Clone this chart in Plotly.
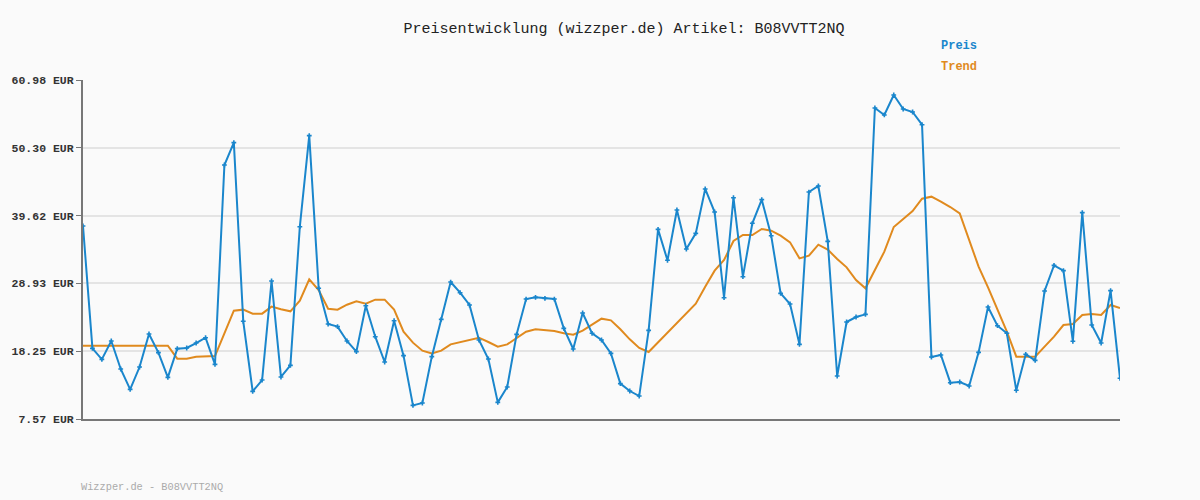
import plotly.graph_objects as go

# Preisverlauf
preis = [37.98, 18.70, 16.97, 19.86, 15.45, 12.24, 15.76, 20.96, 18.02, 14.13,
         18.65, 18.76, 19.54, 20.38, 16.18, 47.59, 51.11, 22.96, 11.93, 13.71,
         29.31, 14.19, 16.02, 37.87, 52.21, 28.16, 22.54, 22.12, 19.86, 18.18,
         25.42, 20.54, 16.55, 23.06, 17.55, 9.72, 10.09, 17.39,
         23.27, 29.15, 27.47, 25.53, 20.02, 17.02, 10.19, 12.61, 20.91, 26.47,
         26.74, 26.58, 26.47, 21.85, 18.60, 24.27, 21.07, 20.02, 17.91, 13.14,
         11.98, 11.19, 21.54, 37.45, 32.57, 40.50, 34.35, 36.82, 43.81, 40.18,
         26.68, 42.44, 29.99, 38.40, 42.13, 36.45, 27.37,
         25.69, 19.33, 43.33, 44.28, 35.56, 14.34, 22.85, 23.64, 24.06, 56.57,
         55.47, 58.62, 56.41, 55.94, 53.94, 17.34, 17.65, 13.29, 13.40, 12.77,
         18.07, 25.21, 22.27, 21.07, 12.09, 17.76, 16.81, 27.74, 31.78, 30.94,
         19.81, 40.08, 22.38, 19.54, 27.79, 13.98]

trend = [19.12] * 10 + [
    17.07, 17.07, 17.39, 17.39, 17.49, 21.07, 24.64, 24.80, 24.17, 24.17,
    25.27, 24.85, 24.53, 26.21, 29.57, 27.89, 24.95, 24.80, 25.58, 26.11,
    25.74, 26.37, 26.37, 24.80, 21.33, 19.60, 18.34, 17.91,
    18.34, 19.33, 19.70, 20.12, 20.38, 19.70, 18.97, 19.33, 20.33, 21.33,
    21.70, 21.59, 21.43, 21.07, 20.86, 21.49, 22.48, 23.38, 23.11, 21.70,
    20.12, 18.76, 18.12, 19.65, 21.17, 22.69, 24.22, 25.74, 28.42, 30.94,
    32.62, 35.61, 36.56, 36.56, 37.50, 37.24, 36.45,
    35.40, 32.88, 33.30, 35.04, 34.25, 32.78, 31.46, 29.47, 28.16, 31.05,
    33.93, 37.82, 39.13, 40.34, 42.28, 42.60, 41.81, 40.97, 39.97, 35.77,
    31.57, 28.31, 24.74, 21.33, 17.39, 17.39, 17.39, 18.97, 20.54, 22.38,
    22.54, 23.96, 24.11, 23.96, 25.53, 25.06]

ticks = [7.57, 18.25, 28.93, 39.62, 50.30, 60.98]
tick_text = ["<b>%.2f EUR</b>" % t for t in ticks]

blau = "#1a86cc"
orange = "#e08a1e"
mono = "Liberation Mono"

x = list(range(len(preis)))

fig = go.Figure()
fig.add_trace(go.Scatter(x=x, y=trend, mode="lines",
                         line=dict(color=orange, width=2), name="Trend"))
fig.add_trace(go.Scatter(x=x, y=preis, mode="lines+markers",
                         line=dict(color=blau, width=2),
                         marker=dict(color=blau, size=4, symbol="cross"),
                         name="Preis"))

fig.update_layout(
    width=1200, height=500,
    margin=dict(l=80, r=80, t=80, b=81),
    paper_bgcolor="#fafafa", plot_bgcolor="#fafafa",
    showlegend=False,
    font=dict(family=mono, size=11, color="#333"),
    title=dict(text="Preisentwicklung (wizzper.de) Artikel: B08VVTT2NQ",
               x=(403 + 845) / 2 / 1200, xanchor="center", y=0.944, yanchor="middle",
               font=dict(family=mono, size=15, color="#222")),
)
fig.update_xaxes(range=[0, len(preis) - 1], showgrid=False, showticklabels=False,
                 showline=True, linecolor="#777", linewidth=2, zeroline=False)
fig.update_yaxes(range=[ticks[0], ticks[-1]], tickvals=ticks, ticktext=tick_text,
                 showgrid=True, gridcolor="#e4e4e4", gridwidth=2,
                 showline=True, linecolor="#777", linewidth=2, zeroline=False,
                 ticks="outside", ticklen=5, tickcolor="#777",
                 tickfont=dict(family=mono, size=11.5, color="#333"))

fig.add_annotation(text="<b>Preis</b>", xref="paper", yref="paper", x=(938 - 80) / 1040,
                   y=(419 - 46) / 339, xanchor="left", yanchor="middle",
                   showarrow=False, font=dict(color=blau, size=12, family=mono))
fig.add_annotation(text="<b>Trend</b>", xref="paper", yref="paper", x=(938 - 80) / 1040,
                   y=(419 - 67) / 339, xanchor="left", yanchor="middle",
                   showarrow=False, font=dict(color=orange, size=12, family=mono))
fig.add_annotation(text="Wizzper.de - B08VVTT2NQ", xref="paper", yref="paper",
                   x=-0.004, y=(419 - 487) / 339, xanchor="left", yanchor="middle",
                   showarrow=False, font=dict(color="#aaa", size=10.3, family=mono))

fig.write_html("out.html", config={"displayModeBar": False},
               post_script="document.body.style.margin='0';")
